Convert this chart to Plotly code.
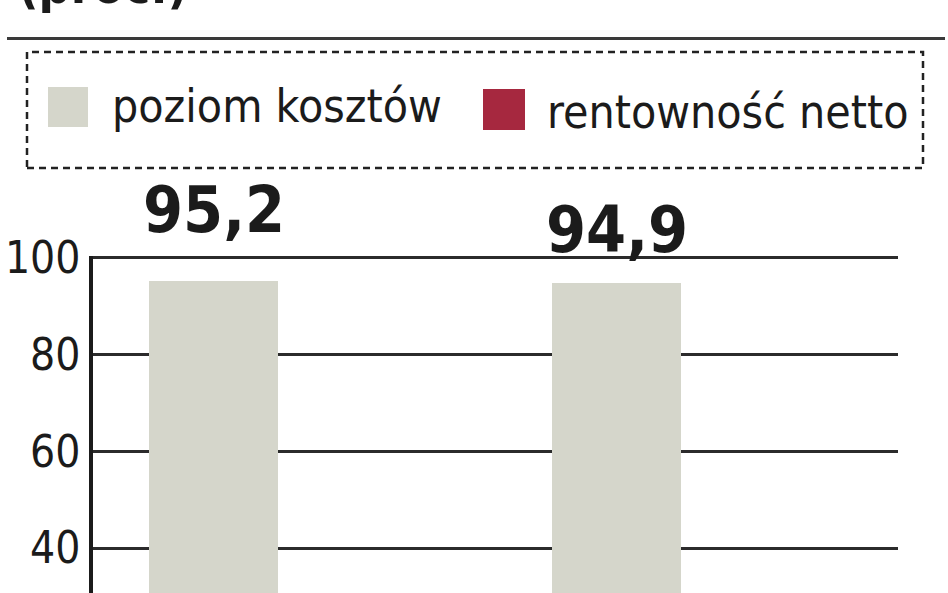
import plotly.graph_objects as go

# ---- data ----
categories = ["okres 1", "okres 2"]
koszty_values = [95.2, 94.9]
koszty_labels = ["95,2", "94,9"]
y_ticks = [40, 60, 80, 100]
y_tick_labels = ["40", "60", "80", "100"]
legend_names = ["poziom kosztów", "rentowność netto"]
unit_text = "(proc.)"

# ---- style ----
GRAY = "#d5d6cb"
RED = "#a6283f"
INK = "#1b1b1b"
FONT = "Liberation Sans Narrow, DejaVu Sans Condensed, sans-serif"

W, H = 948, 593
ML, MR, MT, MB = 93, 50, 256, 0


def px(xp):
    return (xp - ML) / (W - ML - MR)


def py(yp):
    return (H - MB - yp) / (H - MT - MB)


fig = go.Figure()
fig.add_trace(go.Bar(
    x=categories, y=koszty_values, name=legend_names[0],
    marker=dict(color=GRAY, line=dict(width=0)),
    width=0.32, offset=-0.36, showlegend=False,
))

# value labels above bars
label_yshift = [71, 53]
for c, v, t, s in zip(categories, koszty_values, koszty_labels, label_yshift):
    fig.add_annotation(x=c, y=v, text=t, showarrow=False, xshift=-80, yshift=s,
                       yanchor="middle", xanchor="center",
                       font=dict(family=FONT, size=64, color=INK, weight="bold"))

shapes = []
# top rule
shapes.append(dict(type="line", xref="paper", yref="paper", x0=px(7), x1=px(945),
                   y0=py(38.5), y1=py(38.5), line=dict(color="#3a3a3a", width=3)))
# dashed legend box
shapes.append(dict(type="rect", xref="paper", yref="paper", x0=px(27), x1=px(923),
                   y0=py(168), y1=py(52), line=dict(color="#222222", width=2.5, dash="7px,5px")))
# legend swatches
shapes.append(dict(type="rect", xref="paper", yref="paper", x0=px(48), x1=px(88),
                   y0=py(127), y1=py(87), fillcolor=GRAY, line=dict(width=0)))
shapes.append(dict(type="rect", xref="paper", yref="paper", x0=px(483), x1=px(525),
                   y0=py(130), y1=py(89), fillcolor=RED, line=dict(width=0)))

fig.add_annotation(xref="paper", yref="paper", x=px(110), y=py(106), text=legend_names[0],
                   showarrow=False, xanchor="left", yanchor="middle",
                   font=dict(family=FONT, size=46, color=INK))
fig.add_annotation(xref="paper", yref="paper", x=px(545), y=py(112), text=legend_names[1],
                   showarrow=False, xanchor="left", yanchor="middle",
                   font=dict(family=FONT, size=46, color=INK))
# unit text (cut off at the top edge, as in the source)
fig.add_annotation(xref="paper", yref="paper", x=px(16), y=py(-14), text=unit_text,
                   showarrow=False, xanchor="left", yanchor="middle",
                   font=dict(family=FONT, size=50, color=INK, weight="bold"))

fig.update_layout(
    width=W, height=H,
    margin=dict(l=ML, r=MR, t=MT, b=MB, pad=0, autoexpand=False),
    paper_bgcolor="white", plot_bgcolor="white",
    shapes=shapes,
    bargap=0,
    xaxis=dict(range=[-0.5, 1.5], showticklabels=False, showgrid=False,
               showline=False, zeroline=False, ticks="", automargin=False),
    yaxis=dict(range=[30.71, 100.41], tickvals=y_ticks, ticktext=y_tick_labels,
               showgrid=True, gridcolor="#2b2b2b", gridwidth=3,
               showline=True, linecolor=INK, linewidth=3.5,
               zeroline=False, ticks="", ticklabelstandoff=0, automargin=False,
               tickfont=dict(family=FONT, size=44, color=INK)),
)

fig.write_html("out.html", config={"displayModeBar": False})

# remove default page margin so the figure sits at the window origin
with open("out.html", encoding="utf-8") as f:
    html = f.read()
html = html.replace("<head>", "<head><style>html,body{margin:0;padding:0;overflow:hidden;}</style>", 1)
with open("out.html", "w", encoding="utf-8") as f:
    f.write(html)
